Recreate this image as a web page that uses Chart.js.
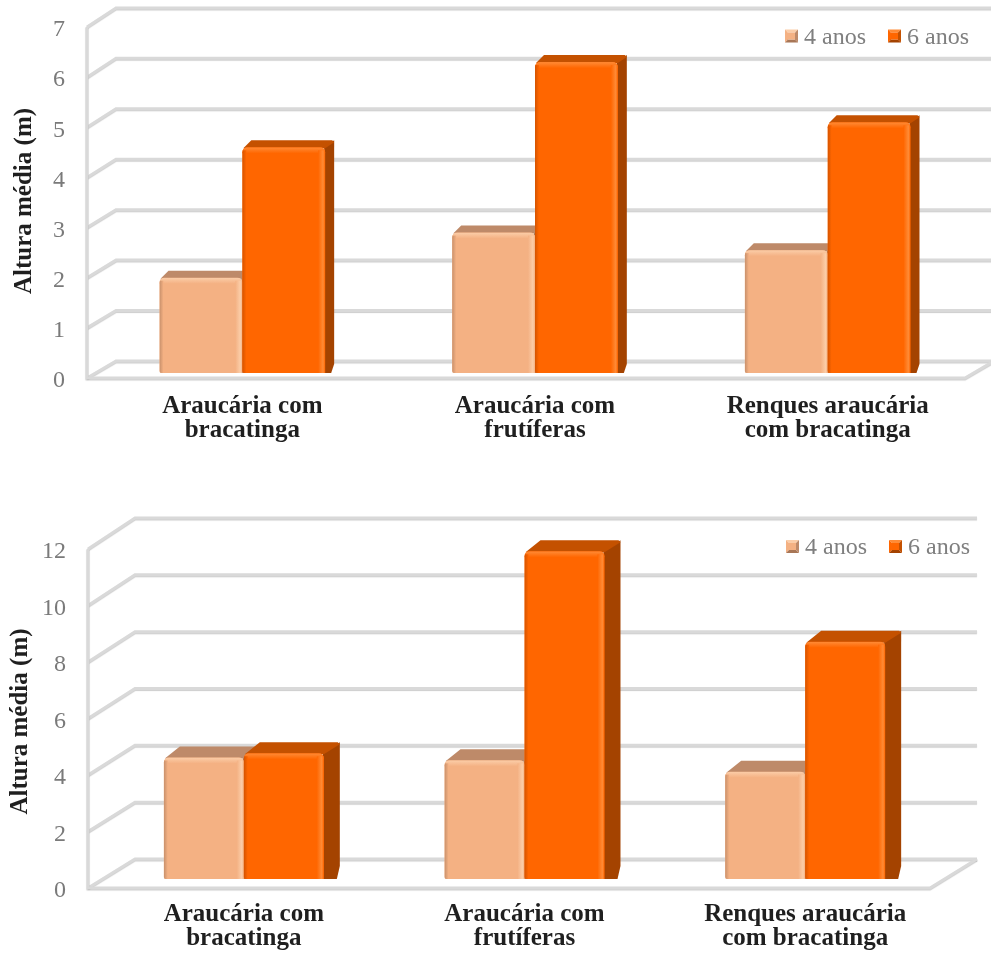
<!DOCTYPE html>
<html>
<head>
<meta charset="utf-8">
<title>Altura média</title>
<script src="https://cdn.jsdelivr.net/npm/chart.js@4/dist/chart.umd.min.js"></script>
<style>
  html, body { margin: 0; padding: 0; background: #ffffff; }
  .panel { position: absolute; left: 0; width: 991px; height: 478px; }
  canvas { display: block; }
</style>
</head>
<body>
<div class="panel" style="top:0"><canvas id="chartTop" width="991" height="478"></canvas></div>
<div class="panel" style="top:478px"><canvas id="chartBottom" width="991" height="478"></canvas></div>
<script>
// ---- data ----
const categories = [
  ['Araucária com', 'bracatinga'],
  ['Araucária com', 'frutíferas'],
  ['Renques araucária', 'com bracatinga']
];
const seriesLabels = ['4 anos', '6 anos'];
const axisTitle = 'Altura média (m)';

const topFourYears = [1.9, 2.8, 2.45];
const topSixYears = [4.5, 6.2, 5.0];
const topTicks = [0, 1, 2, 3, 4, 5, 6, 7];

const bottomFourYears = [4.3, 4.2, 3.8];
const bottomSixYears = [4.45, 11.6, 8.4];
const bottomTicks = [0, 2, 4, 6, 8, 10, 12];

// ---- styling ----
const SERIF = "'Liberation Serif', 'Times New Roman', serif";
const PALETTE = [
  { front: '#F4B183', top: '#BE8A69', side: '#A87656', hi: '#FBCDA8', lo: '#C8906B' },
  { front: '#FF6600', top: '#C45100', side: '#A44300', hi: '#FF8B36', lo: '#D45300' }
];
const PERSPECTIVE = 1.006;

function poly(ctx, pts) {
  ctx.beginPath();
  ctx.moveTo(pts[0][0], pts[0][1]);
  for (let i = 1; i < pts.length; i++) ctx.lineTo(pts[i][0], pts[i][1]);
  ctx.closePath();
  ctx.fill();
}

// one extruded column: side, top, then bevelled front face
function drawBox(ctx, l, r, t, b, dx, dy, p) {
  ctx.fillStyle = p.side;
  poly(ctx, [[r - 1, t], [r + dx, t + dy], [r + dx, b + dy - 2], [r + dx - 3, b], [r - 1, b]]);
  ctx.fillStyle = p.top;
  poly(ctx, [[l + 1, t + 1], [l + dx, t + dy], [r + dx - 2, t + dy], [r + dx, t + dy + 2], [r, t + 1]]);

  ctx.fillStyle = p.front;
  ctx.beginPath();
  ctx.roundRect(l, t, r - l, b - t, [5, 5, 0, 2]);
  ctx.fill();

  ctx.save();
  ctx.beginPath();
  ctx.roundRect(l, t, r - l, b - t, [5, 5, 0, 2]);
  ctx.clip();
  let g = ctx.createLinearGradient(0, t, 0, t + 6);
  g.addColorStop(0, p.hi);
  g.addColorStop(1, p.front);
  ctx.fillStyle = g;
  ctx.fillRect(l, t, r - l, 6);
  g = ctx.createLinearGradient(r - 7, 0, r, 0);
  g.addColorStop(0, p.front);
  g.addColorStop(0.7, p.hi);
  g.addColorStop(1, p.front);
  ctx.fillStyle = g;
  ctx.fillRect(r - 7, t + 3, 7, b - t - 3);
  g = ctx.createLinearGradient(l, 0, l + 4, 0);
  g.addColorStop(0, p.lo);
  g.addColorStop(1, p.front);
  ctx.fillStyle = g;
  ctx.fillRect(l, t + 3, 4, b - t - 3);
  ctx.restore();
}

// small bevelled legend key
function drawKey(ctx, x, y, s, p) {
  const i = 3;
  ctx.fillStyle = p.hi;
  poly(ctx, [[x, y], [x + s, y], [x + s - i, y + i], [x + i, y + i]]);
  ctx.fillStyle = p.front;
  poly(ctx, [[x, y], [x + i, y + i], [x + i, y + s - i], [x, y + s]]);
  ctx.fillStyle = p.side;
  poly(ctx, [[x, y + s], [x + i, y + s - i], [x + s - i, y + s - i], [x + s, y + s]]);
  ctx.fillStyle = p.top;
  poly(ctx, [[x + s, y], [x + s, y + s], [x + s - i, y + s - i], [x + s - i, y + i]]);
  ctx.fillStyle = p.front;
  ctx.fillRect(x + i, y + i, s - 2 * i, s - 2 * i);
}

const box3d = {
  id: 'box3d',
  beforeDatasetsDraw(chart, args, o) {
    const ctx = chart.ctx, ys = chart.scales.y, a = chart.chartArea;
    const base = ys.getPixelForValue(0);
    const backY = v => {
      const p = ys.getPixelForValue(v);
      return p + (p - base) * (PERSPECTIVE - 1) + o.back[1];
    };
    ctx.save();
    ctx.strokeStyle = '#D9D9D9';
    ctx.lineWidth = 3;
    ctx.lineJoin = 'miter';
    ctx.shadowColor = 'rgba(0,0,0,0.2)';
    ctx.shadowOffsetY = 1;
    ctx.shadowBlur = 1;
    const fx = a.left + o.front[0], bx = a.left + o.back[0];
    ys.ticks.forEach(t => {
      const fy = ys.getPixelForValue(t.value) + o.front[1];
      const by = backY(t.value);
      ctx.beginPath();
      ctx.moveTo(fx, fy);
      ctx.lineTo(bx, by);
      ctx.lineTo(a.right + o.back[0], by);
      ctx.stroke();
    });
    // front edge of the side wall
    ctx.beginPath();
    ctx.moveTo(fx, ys.getPixelForValue(ys.max) + o.front[1]);
    ctx.lineTo(fx, base + o.front[1]);
    // floor front edge
    ctx.lineTo(a.right + o.front[0], base + o.front[1]);
    ctx.lineTo(a.right + o.back[0], backY(0));
    ctx.stroke();
    ctx.restore();
  },
  beforeDatasetDraw() { return false; },
  afterDatasetsDraw(chart, args, o) {
    const ctx = chart.ctx;
    ctx.save();
    chart.data.datasets.forEach((ds, di) => {
      const meta = chart.getDatasetMeta(di);
      meta.data.forEach(el => {
        const { x, y, base, width } = el.getProps(['x', 'y', 'base', 'width'], true);
        drawBox(ctx, x - width / 2, x + width / 2, y, base, o.depth[0], o.depth[1], PALETTE[di]);
      });
    });
    ctx.restore();
  },
  afterDraw(chart, args, o) {
    const ctx = chart.ctx;
    ctx.save();
    // axis title
    ctx.translate(o.titleX, o.titleY);
    ctx.rotate(-Math.PI / 2);
    ctx.font = 'bold 25px ' + SERIF;
    ctx.fillStyle = '#1f1f1f';
    ctx.textAlign = 'center';
    ctx.textBaseline = 'middle';
    ctx.fillText(axisTitle, 0, 0);
    ctx.restore();
    // legend
    ctx.save();
    ctx.font = '24px ' + SERIF;
    ctx.textAlign = 'left';
    ctx.textBaseline = 'alphabetic';
    let x = o.legendX;
    chart.data.datasets.forEach((ds, di) => {
      drawKey(ctx, x, o.legendY - 14, 13, PALETTE[di]);
      ctx.fillStyle = '#7f7f7f';
      ctx.fillText(ds.label, x + 19, o.legendY);
      x += 19 + ctx.measureText(ds.label).width + 22;
    });
    ctx.restore();
  }
};

function noPadding(s) {
  s.paddingTop = 0; s.paddingBottom = 0; s.paddingLeft = 0; s.paddingRight = 0;
}

function makeChart(id, fourYears, sixYears, ticks, geo) {
  const H = 478;
  return new Chart(document.getElementById(id), {
    type: 'bar',
    data: {
      labels: categories,
      datasets: [
        { label: seriesLabels[0], data: fourYears, backgroundColor: PALETTE[0].front },
        { label: seriesLabels[1], data: sixYears, backgroundColor: PALETTE[1].front }
      ]
    },
    plugins: [box3d],
    options: {
      responsive: false,
      animation: false,
      devicePixelRatio: 1,
      layout: { padding: { top: geo.top, right: 991 - geo.right, bottom: 0, left: 0 } },
      datasets: { bar: { barPercentage: 1, categoryPercentage: geo.catPct } },
      plugins: {
        legend: { display: false },
        tooltip: { enabled: false },
        box3d: geo
      },
      scales: {
        x: {
          grid: { display: false, drawTicks: false },
          border: { display: false },
          ticks: {
            color: '#1f1f1f',
            padding: geo.labelPad,
            maxRotation: 0,
            autoSkip: false,
            font: { family: SERIF, size: 25, weight: 'bold', lineHeight: '24px' }
          },
          afterFit: s => { s.height = H - geo.bottom; noPadding(s); }
        },
        y: {
          min: ticks[0],
          max: ticks[ticks.length - 1],
          grid: { display: false, drawTicks: false },
          border: { display: false },
          ticks: {
            color: '#7a7a7a',
            padding: geo.tickPad,
            labelOffset: geo.front[1] + 3,
            font: { family: SERIF, size: 24 }
          },
          afterBuildTicks: s => { s.ticks = ticks.map(v => ({ value: v })); },
          afterFit: s => { s.width = geo.left; noPadding(s); }
        }
      }
    }
  });
}

makeChart('chartTop', topFourYears, topSixYears, topTicks, {
  left: 96, right: 974, top: 22, bottom: 373, catPct: 0.566, labelPad: 22,
  front: [-9, 5], back: [20, -12], depth: [9, -7],
  tickPad: 31, titleX: 25, titleY: 201, legendX: 785, legendY: 43.5
});

makeChart('chartBottom', bottomFourYears, bottomSixYears, bottomTicks, {
  left: 103.5, right: 945.5, top: 62, bottom: 401, catPct: 0.57, labelPad: 23.5,
  front: [-15.5, 9], back: [31.5, -20], depth: [16, -11],
  tickPad: 37.5, titleX: 21, titleY: 243.5, legendX: 786, legendY: 76
});
</script>
</body>
</html>
